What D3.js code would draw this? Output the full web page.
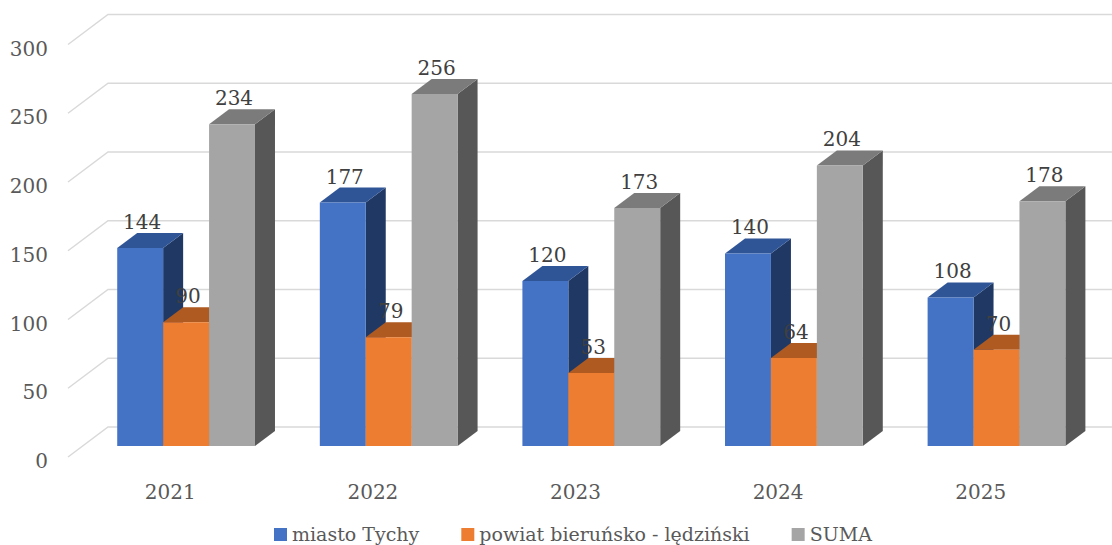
<!DOCTYPE html>
<html>
<head>
<meta charset="utf-8">
<script src="https://cdn.jsdelivr.net/npm/d3@7"></script>
<style>
  html, body { margin: 0; padding: 0; background: #fff; }
</style>
</head>
<body>
<svg id="chart" width="1112" height="545"></svg>
<script>
// lata, serie i wartości
const years = ['2021', '2022', '2023', '2024', '2025'];
const seriesNames = ['miasto Tychy', 'powiat bieruńsko - lędziński', 'SUMA'];
const tychy = [144, 177, 120, 140, 108];
const powiat = [90, 79, 53, 64, 70];
const suma = [234, 256, 173, 204, 178];
const yTicks = [0, 50, 100, 150, 200, 250, 300];

const W = 1112, H = 545;
const svg = d3.select('#chart');
const FONT = '"DejaVu Serif", serif';

// kolory: przód / góra / bok
const COLORS = [
  { front: '#4472C4', top: '#2F5597', side: '#1F3864' },
  { front: '#ED7D31', top: '#AE5A21', side: '#8B4A1C' },
  { front: '#A5A5A5', top: '#7B7B7B', side: '#575757' },
];
const TXT = '#595959';

// rzut ukośny: głębokość d w [0,1] przesuwa o (+40, -30)
const DX = 40, DY = -30;
const y0 = 457;
const y = d3.scaleLinear().domain([0, 300]).range([y0, y0 - 300 * 1.375]);
const P = (x, v, d) => [x + DX * d, y(v) + DY * d];
const D_FRONT = 0.37, D_BACK = 0.87;

const x = d3.scaleBand().domain(years).range([70, 1083]).paddingInner(0.32).paddingOuter(0.16);
const xs = d3.scaleBand().domain(d3.range(3)).range([0, x.bandwidth()]).padding(0);

// siatka: ściana boczna (ukośne) + ściana tylna (poziome)
const grid = svg.append('g');
yTicks.forEach(v => {
  const a = P(68, v, 0), b = P(68, v, 1);
  grid.append('path')
    .attr('d', `M${a[0]},${a[1]}L${b[0]},${b[1]}L${W},${b[1]}`)
    .attr('fill', 'none').attr('stroke', '#D9D9D9').attr('stroke-width', 1.5);
});

// etykiety osi Y
svg.append('g').selectAll('text').data(yTicks).join('text')
  .attr('x', 48).attr('y', v => y(v) + 11)
  .attr('text-anchor', 'end').attr('fill', TXT)
  .attr('font-family', FONT).style('font-size', '20px')
  .text(d => d);

// etykiety kategorii (przednia krawędź podłogi)
svg.append('g').selectAll('text').data(years).join('text')
  .attr('x', d => x(d) + x.bandwidth() / 2 - 1)
  .attr('y', 499)
  .attr('text-anchor', 'middle').attr('fill', TXT)
  .attr('font-family', FONT).style('font-size', '20px')
  .text(d => d);

const poly = pts => 'M' + pts.map(p => p.join(',')).join('L') + 'Z';
const allSeries = [tychy, powiat, suma];

const bars = svg.append('g');
years.forEach((yr, i) => {
  allSeries.forEach((vals, s) => {
    const v = vals[i];
    const x1 = x(yr) + xs(s), x2 = x1 + xs.bandwidth();
    const c = COLORS[s];
    const g = bars.append('g');
    // bok
    g.append('path').attr('d', poly([P(x2, 0, D_FRONT), P(x2, 0, D_BACK), P(x2, v, D_BACK), P(x2, v, D_FRONT)]))
      .attr('fill', c.side);
    // góra
    g.append('path').attr('d', poly([P(x1, v, D_FRONT), P(x1, v, D_BACK), P(x2, v, D_BACK), P(x2, v, D_FRONT)]))
      .attr('fill', c.top);
    // przód
    g.append('path').attr('d', poly([P(x1, 0, D_FRONT), P(x1, v, D_FRONT), P(x2, v, D_FRONT), P(x2, 0, D_FRONT)]))
      .attr('fill', c.front);
    // etykieta wartości
    const lp = P((x1 + x2) / 2 + 2, v, D_FRONT);
    g.append('text')
      .attr('x', lp[0]).attr('y', lp[1] - 19)
      .attr('text-anchor', 'middle').attr('fill', '#404040')
      .attr('font-family', FONT).style('font-size', '20px')
      .text(v);
  });
});

// legenda
const leg = svg.append('g');
let lx = 274;
seriesNames.forEach((name, s) => {
  leg.append('rect').attr('x', lx).attr('y', 528).attr('width', 13).attr('height', 13)
    .attr('fill', COLORS[s].front);
  const t = leg.append('text').attr('x', lx + 18).attr('y', 541)
    .attr('fill', TXT).attr('font-family', FONT).style('font-size', '19px').text(name);
  lx += 18 + t.node().getComputedTextLength() + 42;
});
</script>
</body>
</html>
